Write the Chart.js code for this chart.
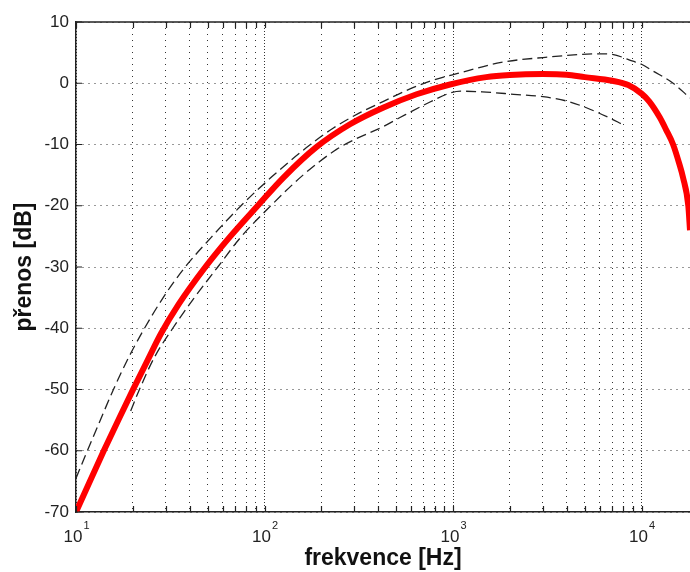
<!DOCTYPE html>
<html>
<head>
<meta charset="utf-8">
<script src="https://cdn.jsdelivr.net/npm/chart.js@4"></script>
<style>
  body { margin: 0; background: #fff; }
  canvas { display: block; }
</style>
</head>
<body>
<canvas id="chart" width="690" height="572"></canvas>
<script>
const redFreq = [10, 12, 14, 17, 20, 24, 28.2, 35, 48, 65, 92, 126, 189, 284, 425, 641, 964,
    1500, 2000, 3000, 4000, 5000, 7000, 8500, 10000, 11000, 12500, 13500, 14700, 15800, 16600, 17700, 18070];
const redGain = [-70, -64.6, -60.1, -54.6, -50.1, -45.2, -40.9, -36.1, -30.2, -25.2, -20, -15.4, -10.4, -6.7, -4, -1.8, -0.2,
    1.0, 1.35, 1.5, 1.4, 1.0, 0.4, -0.3, -1.7, -3, -5.6, -7.6, -10, -13, -15.4, -20, -24];

const upperFreq = [10, 11.1, 13, 15.8, 19, 22.6, 29, 37.5, 52, 75, 110, 167, 232, 321, 425, 565, 750, 1058,
    1800, 3000, 6000, 7000, 9000, 10000, 11500, 14700, 18070];
const upperGain = [-64.5, -61.1, -56.1, -50, -44.8, -40.5, -35, -30.2, -25.2, -20, -15.2, -10.5, -7.3, -4.8, -3, -1.2, 0.3, 1.6,
    3.4, 4.2, 4.8, 4.7, 3.6, 3.1, 2, 0, -2.4];

const lowerFreq = [19.5, 21.7, 26, 32.6, 42, 56.5, 75, 108, 160, 241, 300, 425, 523, 750, 964, 1100,
    1430, 2100, 3000, 4000, 5100, 6700, 7900];
const lowerGain = [-53.5, -50, -44.8, -40, -35.2, -30, -25.1, -20, -15, -10.8, -9.2, -7.1, -5.6, -3.1, -1.6, -1.3,
    -1.4, -1.8, -2.2, -2.9, -4, -5.6, -6.7];

const yTicks = [-70, -60, -50, -40, -30, -20, -10, 0, 10];
const xGridTicks = [10, 20, 30, 40, 50, 60, 70, 80, 90,
    100, 200, 300, 400, 500, 600, 700, 800, 900,
    1000, 2000, 3000, 4000, 5000, 6000, 7000, 8000, 9000, 10000];
const decadeTicks = [10, 100, 1000, 10000];
const decadeExponents = ['1', '2', '3', '4'];

const xMin = 10;
const xMax = 18070;

function toPoints(freq, gain) {
    return freq.map((f, i) => ({ x: f, y: gain[i] }));
}

// MATLAB style frame: top line, inward ticks, 10^n labels
const matlabAxes = {
    id: 'matlabAxes',
    afterDraw(chart) {
        const { ctx, chartArea: area, scales: { x, y } } = chart;
        ctx.save();
        ctx.strokeStyle = '#222';
        ctx.lineWidth = 1.5;
        ctx.beginPath();
        ctx.moveTo(area.left, area.top);
        ctx.lineTo(area.right, area.top);
        ctx.stroke();

        ctx.lineWidth = 1.2;
        ctx.beginPath();
        xGridTicks.forEach(v => {
            const px = Math.round(x.getPixelForValue(v)) + 0.5;
            ctx.moveTo(px, area.bottom);
            ctx.lineTo(px, area.bottom - 6);
            ctx.moveTo(px, area.top);
            ctx.lineTo(px, area.top + 6);
        });
        yTicks.forEach(v => {
            const py = y.getPixelForValue(v);
            ctx.moveTo(area.left, py);
            ctx.lineTo(area.left + 6, py);
        });
        ctx.stroke();

        ctx.fillStyle = '#222';
        ctx.textBaseline = 'alphabetic';
        ctx.textAlign = 'left';
        decadeTicks.forEach((v, i) => {
            const px = x.getPixelForValue(v);
            ctx.font = '17px "Liberation Sans", Arial, sans-serif';
            const baseW = ctx.measureText('10').width;
            ctx.font = '11px "Liberation Sans", Arial, sans-serif';
            const expW = ctx.measureText(decadeExponents[i]).width;
            const start = px - (baseW + expW) / 2;
            ctx.font = '17px "Liberation Sans", Arial, sans-serif';
            ctx.fillText('10', start, area.bottom + 30);
            ctx.font = '11px "Liberation Sans", Arial, sans-serif';
            ctx.fillText(decadeExponents[i], start + baseW + 1, area.bottom + 17);
        });
        ctx.restore();
    }
};

new Chart(document.getElementById('chart'), {
    type: 'line',
    data: {
        datasets: [
            {
                label: 'přenos',
                data: toPoints(redFreq, redGain),
                borderColor: '#ff0000',
                borderWidth: 6,
                pointRadius: 0,
                cubicInterpolationMode: 'monotone',
                order: 2
            },
            {
                label: 'horní mez',
                data: toPoints(upperFreq, upperGain),
                borderColor: '#222',
                borderWidth: 1.3,
                borderDash: [10, 5],
                pointRadius: 0,
                cubicInterpolationMode: 'monotone',
                order: 1
            },
            {
                label: 'dolní mez',
                data: toPoints(lowerFreq, lowerGain),
                borderColor: '#222',
                borderWidth: 1.3,
                borderDash: [10, 5],
                pointRadius: 0,
                cubicInterpolationMode: 'monotone',
                order: 1
            }
        ]
    },
    options: {
        responsive: false,
        animation: false,
        layout: { padding: { top: 22, right: 0, left: 0, bottom: 0 } },
        plugins: {
            legend: { display: false },
            tooltip: { enabled: false }
        },
        scales: {
            x: {
                type: 'logarithmic',
                min: xMin,
                max: xMax,
                afterBuildTicks: scale => {
                    scale.ticks = xGridTicks.map(v => ({ value: v }));
                },
                afterFit: scale => { scale.height = 60; },
                ticks: { display: false },
                grid: {
                    color: 'rgba(0,0,0,0.8)',
                    lineWidth: 1,
                    drawTicks: false
                },
                border: {
                    display: true,
                    color: '#222',
                    width: 1.5,
                    dash: ctx => (decadeTicks.includes(ctx.tick && ctx.tick.value) ? [1, 2] : [1, 5])
                },
                title: {
                    display: true,
                    text: 'frekvence [Hz]',
                    color: '#111',
                    font: { family: '"Liberation Sans", Arial, sans-serif', size: 23, weight: 'bold' },
                    padding: { top: 0, bottom: 0 }
                }
            },
            y: {
                min: -70,
                max: 10,
                afterBuildTicks: scale => {
                    scale.ticks = yTicks.map(v => ({ value: v }));
                },
                afterFit: scale => { scale.width = 76; },
                ticks: {
                    color: '#222',
                    padding: 7,
                    font: { family: '"Liberation Sans", Arial, sans-serif', size: 17 }
                },
                grid: {
                    color: 'rgba(0,0,0,0.8)',
                    lineWidth: 1,
                    drawTicks: false
                },
                border: {
                    display: true,
                    color: '#222',
                    width: 1.5,
                    dash: [1, 5]
                },
                title: {
                    display: true,
                    text: 'přenos [dB]',
                    color: '#111',
                    font: { family: '"Liberation Sans", Arial, sans-serif', size: 23, weight: 'bold' },
                    padding: { top: 11, bottom: 0 }
                }
            }
        }
    },
    plugins: [matlabAxes]
});
</script>
</body>
</html>
